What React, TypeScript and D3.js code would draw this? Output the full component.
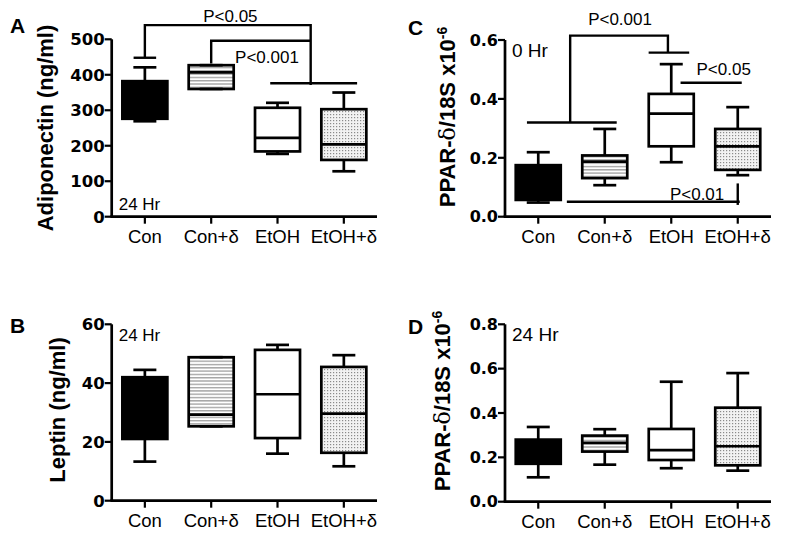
import React from "react";
import * as d3 from "d3";

const categories = ["Con", "Con+δ", "EtOH", "EtOH+δ"];

// Panel A: Adiponectin (ng/ml), 24 Hr
const adipoMin = [269, 360, 177, 128];
const adipoQ1 = [276, 360, 184, 160];
const adipoMed = [330, 407, 222, 204];
const adipoQ3 = [382, 427, 307, 303];
const adipoMax = [421, 427, 321, 350];
const adipoTicks = [0, 100, 200, 300, 400, 500];

// Panel B: Leptin (ng/ml), 24 Hr
const leptinMin = [13.3, 25.3, 16.0, 11.7];
const leptinQ1 = [21.0, 25.3, 21.3, 16.3];
const leptinMed = [30, 29.3, 36.2, 29.6];
const leptinQ3 = [42.0, 48.8, 51.3, 45.5];
const leptinMax = [44.5, 48.8, 53.0, 49.5];
const leptinTicks = [0, 20, 40, 60];

// Panel C: PPAR-δ/18S, 0 Hr
const ppar0Min = [0.048, 0.107, 0.185, 0.141];
const ppar0Q1 = [0.057, 0.131, 0.239, 0.159];
const ppar0Med = [0.11, 0.187, 0.35, 0.239];
const ppar0Q3 = [0.175, 0.208, 0.417, 0.298];
const ppar0Max = [0.219, 0.298, 0.518, 0.372];
const ppar0Ticks = [0, 0.2, 0.4, 0.6];

// Panel D: PPAR-δ/18S, 24 Hr
const ppar24Min = [0.11, 0.167, 0.151, 0.14];
const ppar24Q1 = [0.171, 0.226, 0.188, 0.164];
const ppar24Med = [0.22, 0.265, 0.233, 0.25];
const ppar24Q3 = [0.28, 0.298, 0.328, 0.424];
const ppar24Max = [0.337, 0.327, 0.541, 0.58];
const ppar24Ticks = [0, 0.2, 0.4, 0.6, 0.8];

// Significance brackets: polylines of [category index, value]
const adipoBrackets: [number, number][][] = [
  [[-0.17, 448], [0.17, 448]],
  [[0, 448], [0, 540], [2.5, 540], [2.5, 371]],
  [[1.89, 376], [3.2, 376]],
  [[1, 432], [1, 496], [2.5, 496]],
];
const adipoPLabels = [
  { text: "P<0.05", i: 0.88, v: 549 },
  { text: "P<0.001", i: 1.36, v: 434 },
];

const ppar0Brackets: [number, number][][] = [
  [[-0.17, 0.32], [1.18, 0.32]],
  [[0.48, 0.32], [0.48, 0.615], [1.95, 0.615], [1.95, 0.557]],
  [[1.66, 0.557], [2.27, 0.557]],
  [[2.14, 0.455], [3.06, 0.455]],
  [[0.43, 0.051], [3.03, 0.051]],
  [[3.0, 0.113], [3.0, 0.04]],
];
const ppar0PLabels = [
  { text: "P<0.001", i: 0.75, v: 0.651 },
  { text: "P<0.05", i: 2.38, v: 0.481 },
  { text: "P<0.01", i: 1.98, v: 0.057 },
];

const fills = ["#000", "url(#stripes)", "#fff", "url(#dots)"];
const SANS = "'Liberation Sans', Arial, Helvetica, sans-serif";
const TICKFONT = "'DejaVu Sans', sans-serif";

type PanelProps = {
  left: number; right: number; top: number; bottom: number;
  max: number; ticks: number[]; fmt: (n: number) => string; tickSize: number;
  mins: number[]; q1s: number[]; meds: number[]; q3s: number[]; maxs: number[];
  title: React.ReactNode; titleX: number; titleY: number;
  letter: string; letterX: number; letterY: number;
  timeLabel: string; timeAtBottom?: boolean; timeSize: number;
  brackets?: [number, number][][];
  pLabels?: { text: string; i: number; v: number }[];
};

function Panel(p: PanelProps) {
  const y = d3.scaleLinear().domain([0, p.max]).range([p.bottom, p.top]);
  const x = d3.scalePoint().domain(categories).range([p.left, p.right]).padding(0.5);
  const xi = d3.scaleLinear().domain([-0.5, 3.5]).range([p.left, p.right]);
  const line = d3.line<[number, number]>().x((d) => xi(d[0])).y((d) => y(d[1]));
  const hw = 22.5;
  const cw = 11.5;
  const sw = 2.7;
  return (
    <g>
      <text x={p.letterX} y={p.letterY} fontFamily={SANS} fontWeight="bold" fontSize={21}>{p.letter}</text>
      <text transform={`translate(${p.titleX},${p.titleY}) rotate(-90)`} textAnchor="middle"
        fontFamily={SANS} fontWeight="bold" fontSize={22}>{p.title}</text>
      {categories.map((c, i) => {
        const cx = x(c) as number;
        return (
          <g key={c}>
            <rect x={cx - hw} y={y(p.q3s[i])} width={hw * 2} height={y(p.q1s[i]) - y(p.q3s[i])}
              fill={fills[i]} stroke="none" />
            <line x1={cx} x2={cx} y1={y(p.q3s[i])} y2={y(p.maxs[i])} stroke="#000" strokeWidth={sw} />
            <line x1={cx} x2={cx} y1={y(p.q1s[i])} y2={y(p.mins[i])} stroke="#000" strokeWidth={sw} />
            <line x1={cx - cw} x2={cx + cw} y1={y(p.maxs[i])} y2={y(p.maxs[i])} stroke="#000" strokeWidth={sw} />
            <line x1={cx - cw} x2={cx + cw} y1={y(p.mins[i])} y2={y(p.mins[i])} stroke="#000" strokeWidth={sw} />
            <line x1={cx - hw} x2={cx + hw} y1={y(p.meds[i])} y2={y(p.meds[i])} stroke="#000" strokeWidth={sw} />
            <rect x={cx - hw} y={y(p.q3s[i])} width={hw * 2} height={y(p.q1s[i]) - y(p.q3s[i])}
              fill="none" stroke="#000" strokeWidth={sw} />
          </g>
        );
      })}
      <line x1={p.left} x2={p.left} y1={p.top} y2={p.bottom} stroke="#000" strokeWidth={sw} />
      <line x1={p.left - 1.3} x2={p.right} y1={p.bottom} y2={p.bottom} stroke="#000" strokeWidth={sw} />
      {p.ticks.map((t) => (
        <g key={t}>
          <line x1={p.left - 7} x2={p.left} y1={y(t)} y2={y(t)} stroke="#000" strokeWidth={2.2} />
          <text x={p.left - 7} y={y(t)} dy="0.36em" textAnchor="end" fontFamily={TICKFONT}
            fontWeight="bold" fontSize={p.tickSize}>{p.fmt(t)}</text>
        </g>
      ))}
      {categories.map((c) => (
        <g key={c}>
          <line x1={x(c)} x2={x(c)} y1={p.bottom} y2={p.bottom + 7} stroke="#000" strokeWidth={2.2} />
          <text x={x(c)} y={p.bottom + 26.5} textAnchor="middle" fontFamily={SANS} fontSize={18.5}>{c}</text>
        </g>
      ))}
      <text x={p.left + 7} y={p.timeAtBottom ? p.bottom - 7 : p.top + 17} fontFamily={SANS} fontSize={p.timeSize}>
        {p.timeLabel}
      </text>
      {(p.brackets || []).map((b, k) => (
        <path key={k} d={line(b) || ""} fill="none" stroke="#000" strokeWidth={2.4} />
      ))}
      {(p.pLabels || []).map((l) => (
        <text key={l.text} x={xi(l.i)} y={y(l.v)} fontFamily={SANS} fontSize={17}>{l.text}</text>
      ))}
    </g>
  );
}

const pparTitle = (
  <>
    <tspan>PPAR-</tspan>
    <tspan fontWeight="normal" fontFamily="'DejaVu Serif', serif">δ</tspan>
    <tspan>/18S x10</tspan>
    <tspan dy="-8" fontSize={14}>-6</tspan>
  </>
);

export default function App() {
  const f0 = (n: number) => d3.format("d")(n);
  const f1 = (n: number) => d3.format(".1f")(n);
  return (
    <svg width={800} height={536} style={{ position: "absolute", left: 0, top: 0, background: "#fff" }}>
      <defs>
        <pattern id="stripes" patternUnits="userSpaceOnUse" width={6} height={3.3}>
          <rect width={6} height={3.3} fill="#fff" />
          <rect y={1} width={6} height={1.1} fill="#8c8c8c" />
        </pattern>
        <pattern id="dots" patternUnits="userSpaceOnUse" width={3} height={3}>
          <rect width={3} height={3} fill="#f2f2f2" />
          <rect width={1.2} height={1.2} fill="#8a8a8a" />
        </pattern>
      </defs>
      <Panel left={111.7} right={377} top={39.3} bottom={216.7} max={500} ticks={adipoTicks} fmt={f0} tickSize={16.5}
        mins={adipoMin} q1s={adipoQ1} meds={adipoMed} q3s={adipoQ3} maxs={adipoMax}
        title="Adiponectin (ng/ml)" titleX={53} titleY={128}
        letter="A" letterX={10} letterY={33} timeLabel="24 Hr" timeAtBottom timeSize={17}
        brackets={adipoBrackets} pLabels={adipoPLabels} />
      <Panel left={111.7} right={377} top={324.3} bottom={500.7} max={60} ticks={leptinTicks} fmt={f0} tickSize={16.5}
        mins={leptinMin} q1s={leptinQ1} meds={leptinMed} q3s={leptinQ3} maxs={leptinMax}
        title="Leptin (ng/ml)" titleX={65} titleY={410}
        letter="B" letterX={10} letterY={333} timeLabel="24 Hr" timeSize={17} />
      <Panel left={505} right={771} top={40} bottom={216.7} max={0.6} ticks={ppar0Ticks} fmt={f1} tickSize={16}
        mins={ppar0Min} q1s={ppar0Q1} meds={ppar0Med} q3s={ppar0Q3} maxs={ppar0Max}
        title={pparTitle} titleX={455} titleY={117}
        letter="C" letterX={408} letterY={35} timeLabel="0 Hr" timeSize={19}
        brackets={ppar0Brackets} pLabels={ppar0PLabels} />
      <Panel left={505} right={771} top={324.3} bottom={501.7} max={0.8} ticks={ppar24Ticks} fmt={f1} tickSize={16}
        mins={ppar24Min} q1s={ppar24Q1} meds={ppar24Med} q3s={ppar24Q3} maxs={ppar24Max}
        title={pparTitle} titleX={450} titleY={401}
        letter="D" letterX={408} letterY={334} timeLabel="24 Hr" timeSize={19} />
    </svg>
  );
}
